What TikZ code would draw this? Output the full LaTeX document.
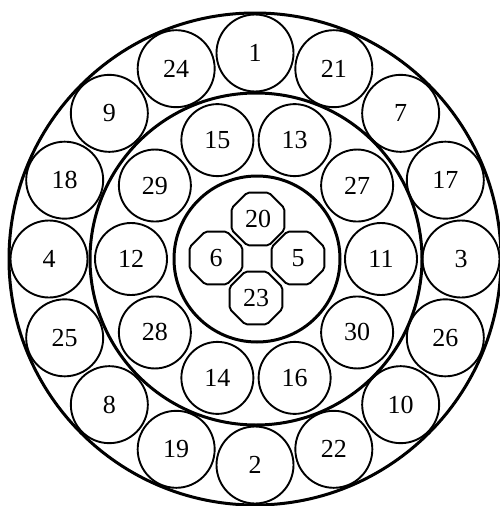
\documentclass[tikz,border=0pt]{standalone}
\usepackage{fontspec}
\setmainfont{Liberation Serif}
\usetikzlibrary{shapes.geometric}
\begin{document}
\begin{tikzpicture}[x=1pt,y=-1pt,
  ring/.style={draw=black,line width=3pt,circle,inner sep=0pt},
  wire/.style={draw=black,line width=1.9pt,circle,inner sep=0pt,font=\fontsize{26}{26}\selectfont},
  oct/.style={draw=black,line width=1.9pt,regular polygon,regular polygon sides=8,inner sep=0pt,minimum size=57pt,rounded corners=2pt,font=\fontsize{26}{26}\selectfont}]
\useasboundingbox (0,0) rectangle (500,506);
\fill[white] (0,0) rectangle (500,506);
\node[ring,minimum size=492pt] (outer) at (255,259) {};
\node[ring,minimum size=332pt] (middle) at (256,259) {};
\node[ring,minimum size=166pt] (inner) at (257,259) {};
\foreach \lab [count=\i from 0] in {1,21,7,17,3,26,10,22,2,19,8,25,4,18,9,24} {
  \pgfmathsetmacro{\a}{90-22.5*\i}
  \node[wire,minimum size=77pt] (o\lab) at ({255+206*cos(\a)},{259-206*sin(\a)}) {\lab};
}
\foreach \lab [count=\i from 0] in {11,27,13,15,29,12,28,14,16,30} {
  \pgfmathsetmacro{\a}{36*\i}
  \node[wire,minimum size=72pt] (m\lab) at ({256+125*cos(\a)},{259-125*sin(\a)}) {\lab};
}
\node[oct] (i20) at (258,219) {20};
\node[oct] (i5) at (298,258) {5};
\node[oct] (i23) at (256,298) {23};
\node[oct] (i6) at (216,258) {6};
\end{tikzpicture}
\end{document}
